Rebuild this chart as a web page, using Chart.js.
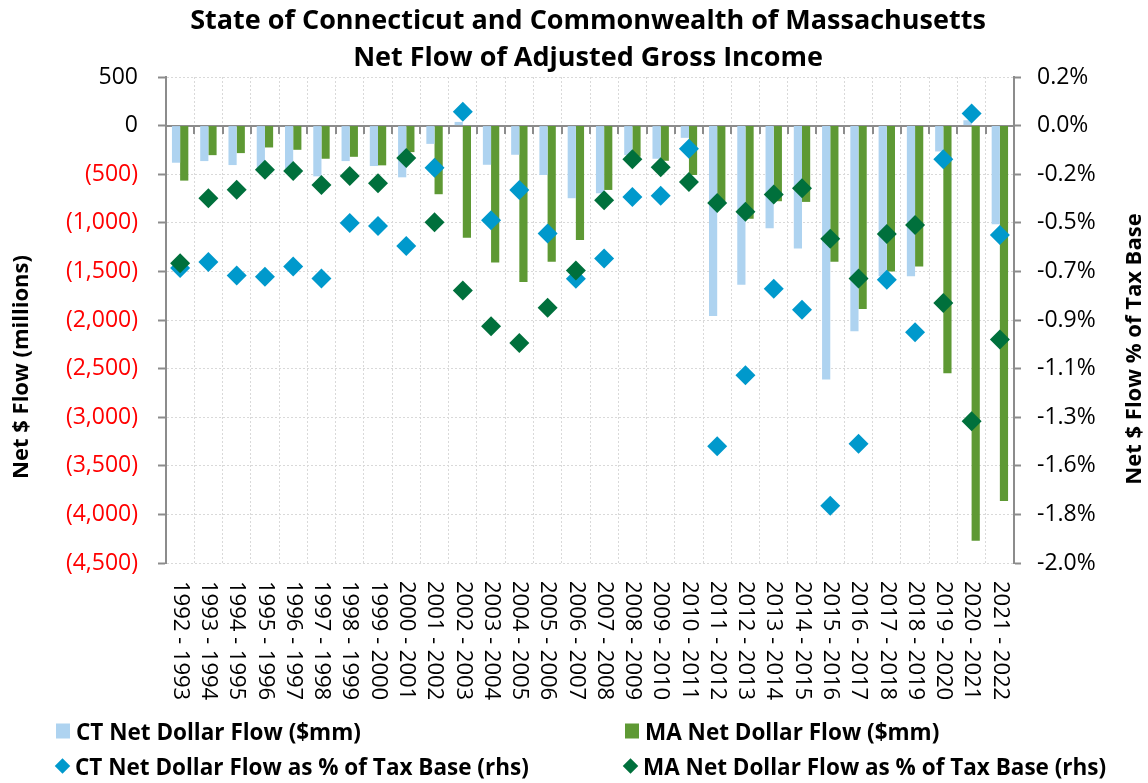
<!DOCTYPE html>
<html>
<head>
<meta charset="utf-8">
<script src="https://cdn.jsdelivr.net/npm/chart.js@4.4.1/dist/chart.umd.min.js"></script>
<style>
  body { margin: 0; background: #fff; }
  #wrap { position: relative; width: 1148px; height: 783px; }
  #legend .item {
    position: absolute;
    display: flex;
    align-items: center;
    font: bold 22.5px 'Open Sans', sans-serif;
    color: #000;
    white-space: nowrap;
    transform: translateY(-50%);
  }
  #legend .box { display: inline-block; width: 14px; height: 15px; margin-right: 6px; }
  #legend .dia { display: inline-block; width: 11px; height: 11px; margin: 0 7px 0 2px; transform: rotate(45deg); }
</style>
</head>
<body>
<div id="wrap">
  <canvas id="chart" width="1148" height="783"></canvas>
  <div id="legend"></div>
</div>
<script>
const years = [
    '1992 - 1993', '1993 - 1994', '1994 - 1995', '1995 - 1996', '1996 - 1997',
    '1997 - 1998', '1998 - 1999', '1999 - 2000', '2000 - 2001', '2001 - 2002',
    '2002 - 2003', '2003 - 2004', '2004 - 2005', '2005 - 2006', '2006 - 2007',
    '2007 - 2008', '2008 - 2009', '2009 - 2010', '2010 - 2011', '2011 - 2012',
    '2012 - 2013', '2013 - 2014', '2014 - 2015', '2015 - 2016', '2016 - 2017',
    '2017 - 2018', '2018 - 2019', '2019 - 2020', '2020 - 2021', '2021 - 2022'
];

// net dollar flow, $ millions
const ctFlow = [
    -382, -365, -406, -440, -450, -522, -365, -416, -532, -188,
    38, -403, -300, -508, -747, -696, -304, -341, -126, -1958,
    -1638, -1057, -1265, -2613, -2115, -1550, -1549, -266, 55, -1016
];
const maFlow = [
    -566, -304, -283, -225, -249, -341, -321, -409, -273, -706,
    -1153, -1409, -1610, -1402, -1177, -662, -320, -362, -508, -780,
    -958, -778, -785, -1402, -1886, -1501, -1450, -2548, -4270, -3861
];

// net flow as % of tax base (rhs)
const ctPct = [
    -0.665, -0.638, -0.698, -0.704, -0.658, -0.712, -0.461, -0.475, -0.565, -0.211,
    0.043, -0.448, -0.311, -0.508, -0.713, -0.622, -0.343, -0.337, -0.125, -1.472,
    -1.150, -0.758, -0.854, -1.741, -1.460, -0.718, -0.955, -0.172, 0.035, -0.515
];
const maPct = [
    -0.643, -0.349, -0.310, -0.220, -0.226, -0.289, -0.248, -0.281, -0.167, -0.458,
    -0.767, -0.928, -1.004, -0.845, -0.676, -0.358, -0.172, -0.209, -0.275, -0.370,
    -0.410, -0.332, -0.304, -0.532, -0.712, -0.511, -0.470, -0.823, -1.358, -0.988
];

// rhs axis: 10 steps lined up with the $ gridlines
const pctTicks = [0.2, -0.02, -0.24, -0.46, -0.68, -0.9, -1.12, -1.34, -1.56, -1.78, -2.0];
const pctTickLabels = ['0.2%', '0.0%', '-0.2%', '-0.5%', '-0.7%', '-0.9%', '-1.1%', '-1.3%', '-1.6%', '-1.8%', '-2.0%'];

const titleLines = ['State of Connecticut and Commonwealth of Massachusetts', 'Net Flow of Adjusted Gross Income'];

const FONT = "'Open Sans', sans-serif";
const AXIS_GREY = '#8c8c8c';
const GRID_GREY = '#d9d9d9';

Chart.defaults.font.family = FONT;
Chart.defaults.color = '#000';

const axisDecor = {
    id: 'axisDecor',
    beforeDatasetsDraw(chart) {
        const { ctx, chartArea, scales: { x, y } } = chart;
        const y0 = Math.round(y.getPixelForValue(0));
        ctx.save();
        ctx.strokeStyle = AXIS_GREY;
        ctx.lineWidth = 2;
        ctx.beginPath();
        ctx.moveTo(chartArea.left, y0);
        ctx.lineTo(chartArea.right, y0);
        for (let i = 1; i < years.length; i++) {
            const bx = Math.round((x.getPixelForValue(i - 1) + x.getPixelForValue(i)) / 2);
            ctx.moveTo(bx, y0);
            ctx.lineTo(bx, y0 + 8);
        }
        ctx.stroke();
        ctx.restore();
    },
    afterDraw(chart) {
        const { ctx, chartArea, scales: { x } } = chart;
        ctx.save();
        ctx.fillStyle = '#000';

        // title, centred a little right of the canvas middle like the original
        ctx.font = 'bold 27px ' + FONT;
        ctx.textAlign = 'center';
        ctx.textBaseline = 'alphabetic';
        ctx.fillText(titleLines[0], 588, 29);
        ctx.fillText(titleLines[1], 588, 66);

        // category labels, reading top to bottom
        ctx.font = '22px ' + FONT;
        ctx.textAlign = 'left';
        ctx.textBaseline = 'middle';
        years.forEach((label, i) => {
            ctx.save();
            ctx.translate(x.getPixelForValue(i), chartArea.bottom + 18);
            ctx.rotate(Math.PI / 2);
            ctx.fillText(label, 0, 0);
            ctx.restore();
        });

        // axis titles, both reading bottom to top
        ctx.font = 'bold 22px ' + FONT;
        ctx.textAlign = 'center';
        [['Net $ Flow (millions)', 22, 367], ['Net $ Flow % of Tax Base', 1135, 349]].forEach(([text, tx, ty]) => {
            ctx.save();
            ctx.translate(tx, ty);
            ctx.rotate(-Math.PI / 2);
            ctx.fillText(text, 0, 0);
            ctx.restore();
        });
        ctx.restore();
    }
};

const chart = new Chart(document.getElementById('chart'), {
    type: 'bar',
    data: {
        labels: years,
        datasets: [{
            type: 'line',
            label: 'MA Net Dollar Flow as % of Tax Base (rhs)',
            data: maPct,
            yAxisID: 'y1',
            showLine: false,
            pointStyle: 'rectRot',
            pointRadius: 10,
            pointHoverRadius: 10,
            pointBorderWidth: 0,
            backgroundColor: 'rgb(0, 112, 60)',
            borderColor: 'rgb(0, 112, 60)',
            order: 1,
        }, {
            type: 'line',
            label: 'CT Net Dollar Flow as % of Tax Base (rhs)',
            data: ctPct,
            yAxisID: 'y1',
            showLine: false,
            pointStyle: 'rectRot',
            pointRadius: 10,
            pointHoverRadius: 10,
            pointBorderWidth: 0,
            backgroundColor: 'rgb(0, 153, 204)',
            borderColor: 'rgb(0, 153, 204)',
            order: 2,
        }, {
            label: 'CT Net Dollar Flow ($mm)',
            data: ctFlow,
            yAxisID: 'y',
            backgroundColor: 'rgb(174, 211, 240)',
            categoryPercentage: 0.58,
            barPercentage: 1.0,
            order: 3,
        }, {
            label: 'MA Net Dollar Flow ($mm)',
            data: maFlow,
            yAxisID: 'y',
            backgroundColor: 'rgb(94, 153, 52)',
            categoryPercentage: 0.58,
            barPercentage: 1.0,
            order: 3,
        }]
    },
    options: {
        responsive: false,
        animation: false,
        devicePixelRatio: 1,
        layout: { padding: { top: 77, left: 0, right: 0, bottom: 0 } },
        plugins: {
            legend: { display: false },
            tooltip: { enabled: false },
            title: { display: false },
        },
        scales: {
            x: {
                grid: { color: GRID_GREY, drawTicks: false, offset: true },
                border: { display: false, dash: [2, 2] },
                ticks: { display: false },
                afterFit: (scale) => { scale.height = 220; },
            },
            y: {
                position: 'left',
                min: -4500,
                max: 500,
                grid: { color: GRID_GREY, tickColor: AXIS_GREY, tickLength: 8, tickWidth: 2 },
                border: { display: true, color: AXIS_GREY, width: 2, dash: [2, 2] },
                ticks: {
                    stepSize: 500,
                    padding: 20,
                    font: { size: 23 },
                    color: (ctx) => (ctx.tick && ctx.tick.value < 0 ? '#ff0000' : '#000'),
                    callback: (value) => value < 0
                        ? '(' + Math.abs(value).toLocaleString('en-US') + ')'
                        : value.toLocaleString('en-US'),
                },
                afterFit: (scale) => { scale.width = 166; },
            },
            y1: {
                position: 'right',
                min: -2.0,
                max: 0.2,
                grid: { drawOnChartArea: false, tickColor: AXIS_GREY, tickLength: 7, tickWidth: 2 },
                border: { display: true, color: AXIS_GREY, width: 2 },
                afterBuildTicks: (scale) => { scale.ticks = pctTicks.map(v => ({ value: v })); },
                ticks: {
                    padding: 16,
                    font: { size: 23 },
                    callback: (value, index) => pctTickLabels[index],
                },
                afterFit: (scale) => { scale.width = 134; },
            },
        },
    },
    plugins: [axisDecor],
});

// legend as a 2x2 grid under the chart
const legendSpots = [
    { index: 2, left: 56, top: 731, shape: 'box' },
    { index: 3, left: 625, top: 731, shape: 'box' },
    { index: 1, left: 55, top: 766, shape: 'dia' },
    { index: 0, left: 623, top: 766, shape: 'dia' },
];
const legendEl = document.getElementById('legend');
legendSpots.forEach(spot => {
    const ds = chart.data.datasets[spot.index];
    const item = document.createElement('div');
    item.className = 'item';
    item.style.left = spot.left + 'px';
    item.style.top = spot.top + 'px';
    const mark = document.createElement('span');
    mark.className = spot.shape;
    mark.style.background = ds.backgroundColor;
    item.appendChild(mark);
    item.appendChild(document.createTextNode(ds.label));
    legendEl.appendChild(item);
});
</script>
</body>
</html>
